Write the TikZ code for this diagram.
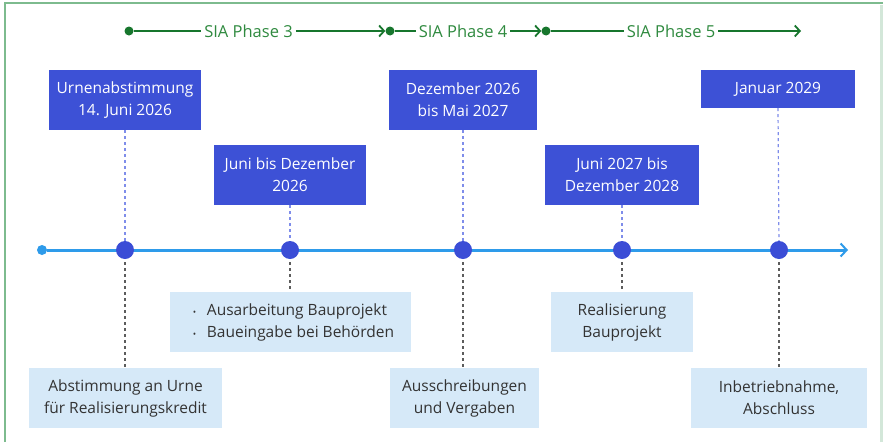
\documentclass[tikz,border=0pt]{standalone}
\usepackage{fontspec}
\setmainfont{Open Sans}
\usetikzlibrary{arrows.meta}
\definecolor{topblue}{HTML}{3D51D6}
\definecolor{botblue}{HTML}{D6E9F8}
\definecolor{lineblue}{HTML}{2E9BEA}
\definecolor{dotblue}{HTML}{3B4DD6}
\definecolor{dashblue}{HTML}{7F8DEA}
\definecolor{phgreen}{HTML}{17762D}
\definecolor{phtext}{HTML}{2F8A3F}
\definecolor{framegreen}{HTML}{7DBB8E}
\definecolor{framelight}{HTML}{D3E7D9}
\definecolor{txtgray}{HTML}{333333}
\newcommand{\bulletitem}{\hspace*{6pt}\makebox[14pt][l]{\fontsize{9}{9}\selectfont•}}
\tikzset{
  topbox/.style={fill=topblue, text=white, inner sep=0pt, align=center, font=\fontsize{15.5}{22}\selectfont},
  botbox/.style={fill=botblue, text=txtgray, inner sep=0pt, align=center, font=\fontsize{15.5}{22}\selectfont},
  evdot/.style={circle, fill=dotblue, minimum size=18pt, inner sep=0pt},
  updash/.style={dashblue, line width=1.2pt, dash pattern=on 3pt off 3pt},
  downdash/.style={txtgray!80, line width=1.2pt, dash pattern=on 3pt off 3pt},
  phdot/.style={circle, fill=phgreen, minimum size=9pt, inner sep=0pt},
  phline/.style={phgreen, line width=1.8pt},
  phtxt/.style={text=phtext, inner sep=3pt, font=\fontsize{16.5}{18}\selectfont},
  pharrow/.style={phline, -{Straight Barb[length=5pt,width=11pt,line width=1.8pt]}},
}
\begin{document}
\begin{tikzpicture}[x=1pt,y=-1pt]
\useasboundingbox (0,0) rectangle (883,442);
% frame
\fill[white] (0,0) rectangle (883,442);
\draw[framelight, line width=3pt] (881,5) -- (881,442);
\draw[framegreen, line width=2pt] (5,442) -- (5,3) -- (883,3);

% phase bar
\node[phdot] (d3) at (129,31) {};
\node[phtxt] (p3) at (248.5,31) {SIA Phase 3};
\node[phdot] (d4) at (390,31) {};
\node[phtxt] (p4) at (463,31) {SIA Phase 4};
\node[phdot] (d5) at (546,31) {};
\node[phtxt] (p5) at (671,31) {SIA Phase 5};
\coordinate (pend) at (801,31);
\draw[phline] (d3) -- (p3);
\draw[pharrow] (p3) -- (d4.west);
\draw[phline] (d4) -- (p4);
\draw[pharrow] (p4) -- (d5.west);
\draw[phline] (d5) -- (p5);
\draw[pharrow] (p5) -- (pend);

% timeline
\node[circle, fill=lineblue, minimum size=10pt, inner sep=0pt] (start) at (42,250) {};
\coordinate (tend) at (848,250);
\draw[lineblue, line width=3pt, -{Straight Barb[length=6pt,width=13pt,line width=2pt]}] (start) -- (tend);

% top boxes
\node[topbox, minimum width=152pt, minimum height=60pt] (t1) at (125,100) {Urnenabstimmung\\14. Juni 2026};
\node[topbox, minimum width=152pt, minimum height=60pt] (t2) at (290,175) {Juni bis Dezember\\2026};
\node[topbox, minimum width=148pt, minimum height=60pt] (t3) at (463,100) {Dezember 2026\\bis Mai 2027};
\node[topbox, minimum width=154pt, minimum height=60pt] (t4) at (622,175) {Juni 2027 bis\\Dezember 2028};
\node[topbox, minimum width=154pt, minimum height=38pt] (t5) at (778,89) {Januar 2029};

% bottom boxes
\node[botbox, minimum width=193pt, minimum height=60pt] (b1) at (125.5,398) {Abstimmung an Urne\\für Realisierungskredit};
\node[botbox, minimum width=241pt, minimum height=60pt, align=left] (b2) at (290.5,322) {\bulletitem Ausarbeitung Bauprojekt\\\bulletitem Baueingabe bei Behörden};
\node[botbox, minimum width=149pt, minimum height=60pt] (b3) at (464.5,398) {Ausschreibungen\\und Vergaben};
\node[botbox, minimum width=142pt, minimum height=60pt] (b4) at (622,322) {Realisierung\\Bauprojekt};
\node[botbox, minimum width=176pt, minimum height=60pt] (b5) at (779,398) {Inbetriebnahme,\\Abschluss};

% event dots positions
\coordinate (e1) at (125,250);
\coordinate (e2) at (290,250);
\coordinate (e3) at (463,250);
\coordinate (e4) at (622,250);
\coordinate (e5) at (779,250);

% connectors
\foreach \i in {1,...,5} {
  \draw[updash] (t\i.south) -- (e\i);
}
\draw[downdash] (e1) -- (e1 |- b1.north);
\draw[downdash] (e2) -- (e2 |- b2.north);
\draw[downdash] (e3) -- (e3 |- b3.north);
\draw[downdash] (e4) -- (e4 |- b4.north);
\draw[downdash] (e5) -- (e5 |- b5.north);

\foreach \i in {1,...,5} {
  \node[evdot] (ev\i) at (e\i) {};
}
\end{tikzpicture}
\end{document}
